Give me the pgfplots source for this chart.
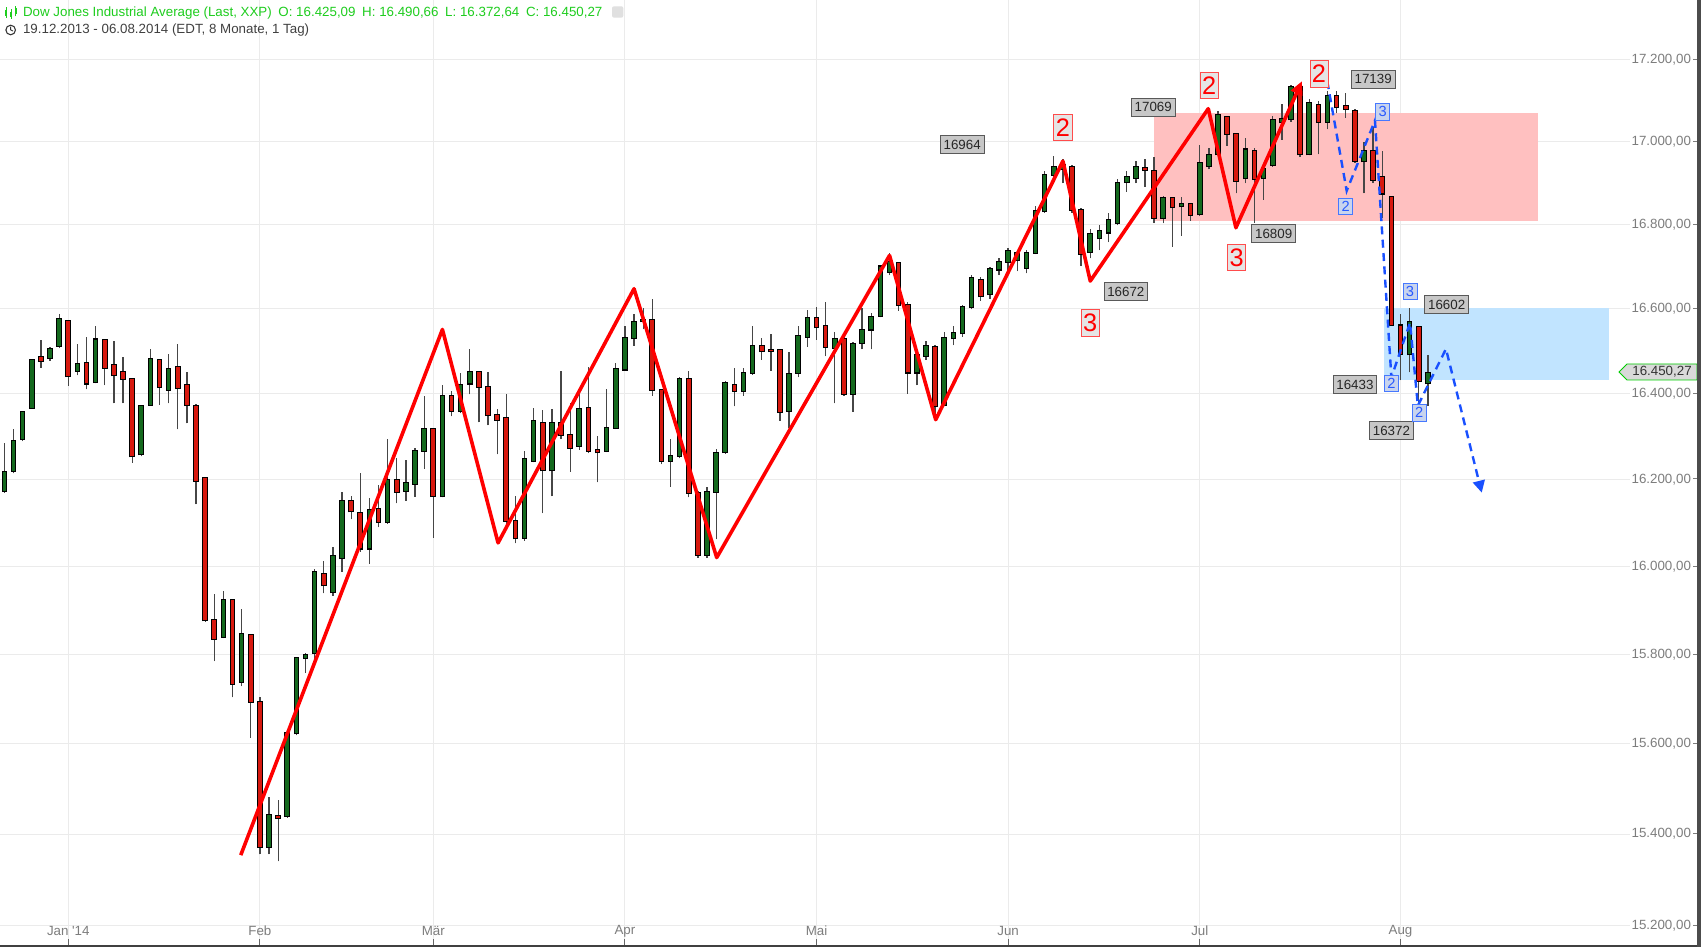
\documentclass[border=0pt]{standalone}
\usepackage{pgfplots}
\pgfplotsset{compat=1.18}
\usepackage{pgfplotstable}
\usepackage{fontspec}
\setmainfont{Liberation Sans}
\usetikzlibrary{arrows.meta}
\definecolor{cgreen}{RGB}{20,105,30}
\definecolor{cred}{RGB}{215,25,15}
\definecolor{wick}{RGB}{70,70,70}
\definecolor{hdrgreen}{RGB}{30,205,30}
\definecolor{pinkbox}{RGB}{255,192,192}
\definecolor{bluebox}{RGB}{193,228,255}
\definecolor{zzred}{RGB}{255,0,0}
\definecolor{dashblue}{RGB}{25,80,255}
\definecolor{bboxfill}{RGB}{200,212,238}
\definecolor{bboxdraw}{RGB}{70,120,255}
\definecolor{bboxtext}{RGB}{40,90,255}
\definecolor{tickgray}{RGB}{125,125,125}
\newcommand{\tk}{\,\rule[2.8pt]{4pt}{0.7pt}}

\pgfplotstableread{
i o h l c
0 16165 16200 16130 16179
1 16175 16286 16170 16219
2 16221 16317 16215 16290
3 16295 16361 16290 16357
4 16368 16483 16365 16479
6 16484 16510 16478 16505
7 16513 16589 16508 16577
9 16454 16516 16443 16470
11 16427 16560 16425 16528
16 16259 16375 16255 16373
17 16375 16505 16372 16481
19 16410 16494 16377 16458
25 15841 15944 15838 15926
27 15739 15905 15730 15848
30 15373 15482 15357 15442
32 15441 15630 15437 15625
33 15624 15795 15620 15793
34 15793 15803 15760 15801
35 15805 15995 15790 15988
37 15942 16046 15935 16024
38 16019 16172 15990 16150
41 16043 16159 16007 16130
43 16103 16295 16100 16200
45 16175 16246 16152 16193
46 16191 16274 16161 16267
47 16267 16396 16226 16318
49 16163 16420 16160 16395
51 16360 16449 16355 16422
52 16424 16505 16399 16451
58 16067 16268 16060 16247
59 16245 16368 16240 16336
61 16222 16365 16163 16331
64 16279 16400 16270 16366
67 16268 16412 16265 16321
68 16321 16472 16318 16457
69 16457 16561 16455 16531
70 16531 16588 16513 16570
71 16572 16601 16551 16573
74 16245 16295 16184 16256
75 16256 16440 16250 16436
78 16028 16185 16020 16173
79 16173 16273 16063 16263
80 16265 16430 16260 16424
82 16407 16461 16395 16449
83 16449 16561 16445 16514
87 16361 16500 16320 16447
88 16449 16558 16440 16536
89 16534 16597 16511 16578
92 16508 16546 16377 16529
94 16401 16521 16358 16516
95 16519 16601 16505 16550
96 16551 16591 16505 16581
97 16583 16705 16580 16700
98 16689 16735 16680 16712
101 16450 16495 16420 16492
102 16490 16525 16480 16513
104 16375 16545 16370 16531
105 16531 16560 16515 16543
106 16543 16610 16535 16604
107 16604 16680 16600 16673
109 16635 16700 16625 16694
110 16693 16720 16680 16712
111 16712 16745 16690 16738
112 16716 16740 16690 16733
113 16698 16740 16685 16733
114 16735 16845 16730 16834
115 16834 16930 16830 16920
116 16920 16967 16915 16939
117 16936 16960 16900 16945
120 16736 16790 16720 16779
121 16768 16800 16740 16786
122 16782 16830 16760 16811
123 16805 16910 16800 16902
124 16903 16930 16880 16916
125 16914 16955 16900 16940
128 16817 16870 16805 16864
130 16845 16868 16775 16850
132 16826 16993 16822 16950
133 16942 16985 16935 16968
134 16971 17075 16968 17067
137 16913 17010 16900 16982
139 16913 16945 16860 16934
140 16945 17065 16940 17053
141 17049 17093 17005 17057
142 17057 17139 17050 17134
144 16971 17105 16968 17097
146 17051 17125 17030 17112
150 16953 17000 16876 16977
155 16493 16602 16450 16569
157 16425.09 16490.66 16372.64 16450.27
}\candup

\pgfplotstableread{
i o h l c
5 16486 16527 16462 16478
8 16572 16575 16419 16441
10 16472 16533 16411 16424
12 16526 16528 16420 16462
13 16469 16524 16377 16444
14 16452 16487 16377 16436
15 16434 16436 16239 16255
18 16479 16481 16375 16418
20 16463 16518 16317 16414
21 16420 16451 16331 16374
22 16373 16376 16144 16197
23 16204 16206 15875 15879
24 15879 15939 15786 15837
26 15924 15926 15705 15735
28 15845 15847 15614 15695
29 15695 15705 15357 15373
31 15441 15476 15341 15437
36 15984 16012 15940 15958
39 16150 16163 16108 16128
40 16122 16217 16035 16043
42 16133 16187 16091 16103
44 16200 16250 16146 16172
48 16318 16320 16067 16163
50 16395 16407 16348 16360
53 16451 16453 16334 16418
54 16418 16451 16327 16351
55 16351 16365 16259 16340
56 16343 16399 16100 16106
57 16104 16163 16054 16065
60 16333 16363 16124 16222
62 16333 16455 16294 16303
63 16303 16377 16218 16275
65 16368 16464 16262 16268
66 16270 16301 16195 16264
72 16573 16624 16396 16410
73 16410 16412 16236 16245
76 16436 16455 16160 16171
77 16170 16175 16020 16028
81 16422 16461 16371 16408
84 16513 16530 16480 16501
85 16502 16541 16455 16501
86 16502 16502 16337 16358
90 16578 16604 16528 16557
91 16560 16616 16489 16511
93 16529 16535 16395 16401
99 16710 16712 16596 16609
100 16609 16615 16401 16450
103 16509 16515 16354 16373
108 16670 16675 16620 16630
118 16940 16945 16830 16838
119 16835 16840 16702 16731
126 16938 16960 16892 16932
127 16930 16963 16805 16817
129 16864 16868 16748 16843
131 16850 16855 16810 16824
135 17061 17063 16992 17020
136 17020 17022 16876 16906
138 16977 16985 16806 16912
143 17134 17139 16964 16971
145 17091 17100 16971 17049
147 17113 17125 17070 17084
148 17089 17120 17060 17081
149 17076 17080 16950 16955
151 16977 17037 16900 16909
152 16915 16979 16817 16876
153 16868 16870 16560 16563
154 16561 16587 16433 16493
156 16557 16560 16378 16430
}\canddown

\tikzset{
  vbox/.style={draw=black!65, fill=black!22, text=black!85, font=\fontsize{10pt}{12pt}\selectfont, inner xsep=2.5pt, inner ysep=0pt, minimum height=13.5pt, line width=0.6pt},
  rbox/.style={draw=red!70, fill=black!10, text=red, font=\fontsize{19pt}{19pt}\selectfont, inner xsep=1.5pt, inner ysep=0pt, minimum height=20pt, line width=0.6pt},
  bbox/.style={draw=bboxdraw, fill=bboxfill, text=bboxtext, font=\fontsize{11pt}{11pt}\selectfont, inner xsep=1.5pt, inner ysep=0pt, minimum height=12.5pt, minimum width=10.5pt, line width=0.6pt},
}
\pgfplotsset{nomark/.style={only marks, mark=none, mark size=0pt, mark options={draw=none, fill=none}}}

\begin{document}
\begin{tikzpicture}
\useasboundingbox (0,0) rectangle (1275.75pt,710.25pt);
\fill[white] (0,0) rectangle (1275.75pt,710.25pt);
\begin{axis}[
  at={(0pt,1.5pt)}, anchor=south west,
  scale only axis, width=1222.5pt, height=708.75pt,
  xmin=0.515, xmax=179.15,
  ymin=9.626301, ymax=9.761185,
  axis line style={draw=none},
  xtick={8,29,48,69,90,111,132,154},
  xticklabels={Jan \textquotesingle14, Feb, Mär, Apr, Mai, Jun, Jul, Aug},
  ytick={9.629050,9.642123,9.655026,9.667765,9.680344,9.692766,9.705037,9.717158,9.729134,9.740969,9.752664},
  yticklabels={{15.200,00\tk},{15.400,00\tk},{15.600,00\tk},{15.800,00\tk},{16.000,00\tk},{16.200,00\tk},{16.400,00\tk},{16.600,00\tk},{16.800,00\tk},{17.000,00\tk},{17.200,00\tk}},
  scaled y ticks=false,
  xtick pos=bottom, ytick pos=right, yticklabel pos=right,
  tick align=inside, major tick length=4.5pt,
  xtick style={draw=black!60, line width=0.75pt},
  ytick style={draw=none},
  xticklabel style={font=\fontsize{10pt}{12pt}\selectfont, text=tickgray, anchor=center, yshift=10.5pt},
  yticklabel style={font=\fontsize{10pt}{12pt}\selectfont, text=tickgray, anchor=west, inner xsep=1pt},
  grid=major, major grid style={draw=black!8, line width=0.75pt},
]
% zones
\addplot[draw=none, fill=pinkbox] table[x=i, y expr={ln(\thisrow{v})}] {
i v
127.0 16809
169.1 16809
169.1 17069
127.0 17069
};
\addplot[draw=none, fill=bluebox] table[x=i, y expr={ln(\thisrow{v})}] {
i v
152.2 16433
176.9 16433
176.9 16602
152.2 16602
};
% wicks
\addplot[nomark, error bars/.cd, y dir=plus, y explicit, error mark=none, error bar style={line width=1pt, draw=wick}] table[x=i, y expr={ln(\thisrow{l})}, y error expr={ln(\thisrow{h})-ln(\thisrow{l})}] {\candup};
\addplot[nomark, error bars/.cd, y dir=plus, y explicit, error mark=none, error bar style={line width=1pt, draw=wick}] table[x=i, y expr={ln(\thisrow{l})}, y error expr={ln(\thisrow{h})-ln(\thisrow{l})}] {\canddown};
% outlines
\addplot[nomark, error bars/.cd, y dir=plus, y explicit, error mark=none, error bar style={line width=4.2pt, draw=black}] table[x=i, y expr={ln(\thisrow{o})-0.00015}, y error expr={ln(\thisrow{c})-ln(\thisrow{o})+0.0003}] {\candup};
\addplot[nomark, error bars/.cd, y dir=plus, y explicit, error mark=none, error bar style={line width=4.2pt, draw=black}] table[x=i, y expr={ln(\thisrow{c})-0.00015}, y error expr={ln(\thisrow{o})-ln(\thisrow{c})+0.0003}] {\canddown};
% bodies
\addplot[nomark, error bars/.cd, y dir=plus, y explicit, error mark=none, error bar style={line width=2.7pt, draw=cgreen}] table[x=i, y expr={ln(\thisrow{o})}, y error expr={ln(\thisrow{c})-ln(\thisrow{o})}] {\candup};
\addplot[nomark, error bars/.cd, y dir=plus, y explicit, error mark=none, error bar style={line width=2.7pt, draw=cred}] table[x=i, y expr={ln(\thisrow{c})}, y error expr={ln(\thisrow{o})-ln(\thisrow{c})}] {\canddown};
% red zigzag
\addplot[zzred, line width=2.7pt, line join=round, -{Triangle[length=10pt,width=9pt]}] table[x=i, y expr={ln(\thisrow{v})}] {
i v
26.9 15355
49.0 16551
55.1 16055
70.0 16648
79.06 16021
98.0 16727
103.06 16340
117.0 16955
120.0 16666
132.93 17081
135.96 16793
143.2 17150
};
% blue dashed
\addplot[dashblue, line width=1.8pt, dash pattern=on 6pt off 4pt, -{Triangle[length=9pt,width=9pt]}] table[x=i, y expr={ln(\thisrow{v})}] {
i v
145.97 17150
148.1 16883
151.2 17053
153.0 16439
155.04 16568
155.9 16373
158.98 16506
162.9 16171
};
% value labels
\addplot[nomark, point meta=explicit symbolic, nodes near coords, nodes near coords align={center}, every node near coord/.append style={vbox, anchor=center}] table[x=i, y expr={ln(\thisrow{v})}, meta=t] {
i v t
105.96 16994 16964
126.9 17085 17069
123.9 16642 16672
140.1 16780 16809
151.0 17154 17139
159.06 16611 16602
149.0 16422 16433
153.0 16315 16372
};
% red wave numbers
\addplot[nomark, point meta=explicit symbolic, nodes near coords, nodes near coords align={center}, every node near coord/.append style={rbox, anchor=center}] table[x=i, y expr={ln(\thisrow{v})}, meta=t] {
i v t
117 17036 2
120 16567 3
133.04 17138 2
136.05 16723 3
145.06 17165 2
};
% blue wave numbers
\addplot[nomark, point meta=explicit symbolic, nodes near coords, nodes near coords align={center}, every node near coord/.append style={bbox, anchor=center}] table[x=i, y expr={ln(\thisrow{v})}, meta=t] {
i v t
152.04 17074 3
148.0 16845 2
155.04 16642 3
153.0 16425 2
156.05 16356 2
};
\end{axis}
% header
\draw[hdrgreen, line width=0.5pt] (4.6pt,697pt)--(4.6pt,705pt);
\fill[hdrgreen] (3.7pt,698.5pt) rectangle (5.5pt,703pt);
\draw[hdrgreen, line width=0.5pt] (8.2pt,696pt)--(8.2pt,703.5pt);
\fill[hdrgreen] (7.3pt,697.5pt) rectangle (9.1pt,701pt);
\draw[hdrgreen, line width=0.5pt] (11.8pt,698pt)--(11.8pt,705.5pt);
\fill[hdrgreen] (10.9pt,699.5pt) rectangle (12.7pt,704pt);
\node[anchor=west, text=hdrgreen, inner sep=0pt, font=\fontsize{10pt}{12pt}\selectfont] at (17.1pt,700.5pt) {Dow Jones Industrial Average (Last, XXP)\enspace O: 16.425,09\enspace H: 16.490,66\enspace L: 16.372,64\enspace C: 16.450,27};
\fill[black!12, rounded corners=1.5pt] (459pt,697pt) rectangle (467.5pt,705.5pt);
\draw[black!80, line width=0.8pt] (8pt,687.75pt) circle (3.6pt);
\draw[black!80, line width=0.7pt] (8pt,687.75pt) -- (8pt,690.2pt) (8pt,687.75pt) -- (9.8pt,687pt);
\node[anchor=west, text=black!75, inner sep=0pt, font=\fontsize{10pt}{12pt}\selectfont] at (17.1pt,687.75pt) {19.12.2013 - 06.08.2014 (EDT, 8 Monate, 1 Tag)};
% last price flag
\draw[fill=black!15, draw=green!80!black, line width=0.6pt] (1214.25pt,431.25pt) -- (1220.25pt,437.25pt) -- (1272.75pt,437.25pt) -- (1272.75pt,425.25pt) -- (1220.25pt,425.25pt) -- cycle;
\node[text=black!80, inner sep=0pt, font=\fontsize{10pt}{12pt}\selectfont] at (1246.5pt,431.25pt) {16.450,27};
% frame
\fill[black!75] (0,0) rectangle (1275.75pt,1.5pt);
\fill[black!70] (1273pt,0) rectangle (1275.75pt,710.25pt);
\end{tikzpicture}
\end{document}
